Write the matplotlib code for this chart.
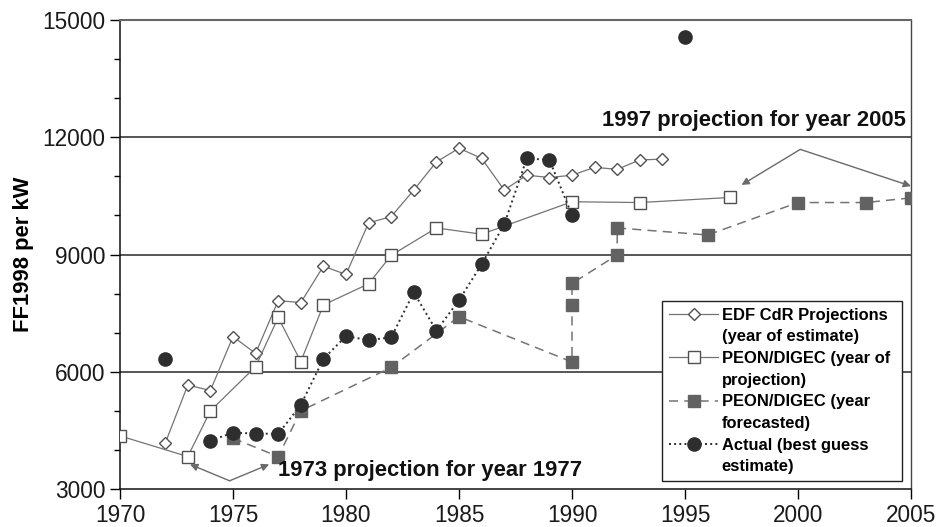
import matplotlib
matplotlib.use("Agg")
import matplotlib.pyplot as plt
from matplotlib.lines import Line2D
from matplotlib.ticker import MultipleLocator

plt.rcParams['font.family'] = ['Liberation Sans', 'DejaVu Sans']

# EDF CdR projections, by year of estimate
edf_years = [1972, 1973, 1974, 1975, 1976, 1977, 1978, 1979, 1980, 1981, 1982, 1983,
             1984, 1985, 1986, 1987, 1988, 1989, 1990, 1991, 1992, 1993, 1994]
edf_vals = [4170, 5660, 5520, 6900, 6470, 7820, 7770, 8700, 8490, 9810, 9970, 10650,
            11370, 11720, 11460, 10650, 11030, 10970, 11030, 11230, 11180, 11420, 11440]

# PEON/DIGEC, by year of projection
proj_years = [1970, 1973, 1974, 1976, 1977, 1978, 1979, 1981, 1982, 1984, 1986, 1990, 1993, 1997]
proj_vals = [4360, 3830, 5000, 6130, 7390, 6260, 7710, 8250, 8980, 9680, 9520, 10350, 10330, 10460]

# PEON/DIGEC, by year forecasted
fc_years = [1975, 1977, 1978, 1982, 1985, 1990, 1990, 1990, 1992, 1992, 1996, 2000, 2003, 2005]
fc_vals = [4300, 3830, 5000, 6110, 7410, 6250, 7720, 8260, 8990, 9680, 9500, 10330, 10330, 10450]

# actual cost (best guess)
act_years = [1974, 1975, 1976, 1977, 1978, 1979, 1980, 1981, 1982, 1983, 1984, 1985,
             1986, 1987, 1988, 1989, 1990]
act_vals = [4240, 4440, 4420, 4410, 5150, 6330, 6910, 6810, 6880, 8030, 7050, 7830,
            8750, 9770, 11460, 11420, 10010]
act_extra_years = [1972, 1995]
act_extra_vals = [6320, 14560]

line_col = '#747474'
edge_col = '#505050'
fc_col = '#626262'
act_col = '#2e2e2e'

fig = plt.figure(figsize=(9.36, 5.27), dpi=100)
ax = fig.add_axes([0.1282, 0.0721, 0.8451, 0.8899])

ax.plot(edf_years, edf_vals, '-', color=line_col, lw=0.9, marker='D', ms=6.2,
        mfc='white', mec=edge_col, mew=1.0, zorder=3)
ax.plot(proj_years, proj_vals, '-', color=line_col, lw=0.9, marker='s', ms=9,
        mfc='white', mec=edge_col, mew=1.0, zorder=3)
ax.plot(fc_years, fc_vals, color=line_col, lw=1.1, dashes=(6, 4), marker='s', ms=9,
        mfc=fc_col, mec=fc_col, zorder=4)
ax.plot(act_years, act_vals, ':', color=act_col, lw=1.4, marker='o', ms=9.5,
        mfc=act_col, mec=act_col, zorder=5)
ax.plot(act_extra_years, act_extra_vals, 'o', ms=9.5, mfc=act_col, mec=act_col, zorder=5)

ax.set_xlim(1970, 2005)
ax.set_ylim(3000, 15000)
ax.xaxis.set_major_locator(MultipleLocator(5))
ax.yaxis.set_major_locator(MultipleLocator(3000))
ax.yaxis.set_minor_locator(MultipleLocator(1000))
ax.tick_params(axis='both', which='major', labelsize=16.3, length=7, width=1,
               direction='out', labelcolor='#1a1a1a')
ax.tick_params(axis='y', which='minor', length=4, width=1, direction='out')
ax.tick_params(top=False, right=False)

for v in [6000, 9000, 12000]:
    ax.axhline(v, color='#3a3a3a', lw=1.2, zorder=1)

for side in ['left', 'bottom']:
    ax.spines[side].set_color('#111111')
    ax.spines[side].set_linewidth(1.1)
ax.spines['top'].set_color('#666666')
ax.spines['top'].set_linewidth(1.5)
ax.spines['right'].set_color('#444444')
ax.spines['right'].set_linewidth(1.0)

ax.set_ylabel('FF1998 per kW', fontsize=15.8, fontweight='bold', labelpad=6)

# annotations with arrows
arrow_kw = dict(arrowstyle='-|>', color='#6a6a6a', lw=1.0, mutation_scale=11,
                shrinkA=0, shrinkB=0)
ax.annotate('', xy=(1973.1, 3630), xytext=(1974.85, 3210), arrowprops=arrow_kw)
ax.annotate('', xy=(1976.6, 3630), xytext=(1974.85, 3210), arrowprops=arrow_kw)
ax.text(1977.0, 3470, '1973 projection for year 1977', fontsize=15.8, fontweight='bold',
        ha='left', va='center', color='#111111', zorder=6)

ax.annotate('', xy=(1997.5, 10780), xytext=(2000.1, 11690), arrowprops=arrow_kw)
ax.annotate('', xy=(2005.0, 10750), xytext=(2000.1, 11690), arrowprops=arrow_kw)
ax.text(2004.78, 12420, '1997 projection for year 2005', fontsize=15.8, fontweight='bold',
        ha='right', va='center', color='#111111', zorder=6)

# legend: second line of each label gets an empty handle so markers sit on the first line
blank = Line2D([], [], linestyle='none', marker='none')
handles = [
    Line2D([], [], color=line_col, lw=0.9, marker='D', ms=6.2, mfc='white', mec=edge_col),
    blank,
    Line2D([], [], color=line_col, lw=0.9, marker='s', ms=9, mfc='white', mec=edge_col),
    blank,
    Line2D([], [], color=line_col, lw=1.1, dashes=(6, 4), marker='s', ms=9, mfc=fc_col, mec=fc_col),
    blank,
    Line2D([], [], color=act_col, lw=1.4, ls=':', marker='o', ms=9.5, mfc=act_col, mec=act_col),
    blank,
]
labels = ['EDF CdR Projections', '(year of estimate)',
          'PEON/DIGEC (year of', 'projection)',
          'PEON/DIGEC (year', 'forecasted)',
          'Actual (best guess', 'estimate)']
leg = ax.legend(handles, labels, loc='upper left',
                bbox_to_anchor=(0.685, 0.0235, 0.3035, 0.3775), mode='expand',
                borderaxespad=0, frameon=True, fancybox=False, framealpha=1,
                edgecolor='#222222', prop={'size': 11.9, 'weight': 'bold'},
                handlelength=3.0, handletextpad=0.2, labelspacing=0.40, borderpad=0.42)
leg.get_frame().set_linewidth(1.0)
leg.set_zorder(7)

fig.savefig('out.png', dpi=100)
